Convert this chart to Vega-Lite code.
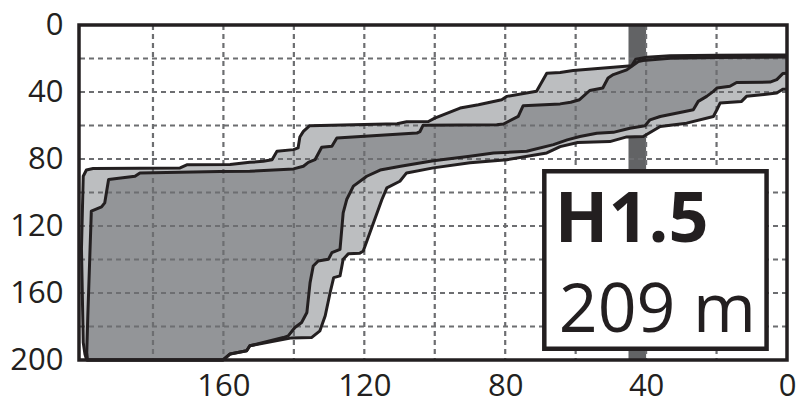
{
  "$schema": "https://vega.github.io/schema/vega-lite/v6.json",
  "width": 708,
  "height": 335,
  "autosize": "none",
  "padding": {"left": 79, "top": 25, "right": 14, "bottom": 43},
  "config": {"view": {"stroke": null}, "font": "Open Sans"},
  "datasets": {
    "outer": [
      {"x":0,"y":17.9},{"x":20,"y":18.1},{"x":33.2,"y":18.3},{"x":39.8,"y":19.2},{"x":42.9,"y":20.4},{"x":44.1,"y":24.4},{"x":60.7,"y":27.2},{"x":64.4,"y":28.4},{"x":68.2,"y":28.8},{"x":71.1,"y":39.6},{"x":79.5,"y":42.6},{"x":81,"y":44.6},{"x":87.6,"y":47.6},{"x":92.8,"y":49.6},{"x":100,"y":55.6},{"x":101.8,"y":57.6},{"x":108,"y":57.8},{"x":110.7,"y":58.9},{"x":135.5,"y":60.1},{"x":137.3,"y":63.5},{"x":138.3,"y":66.9},{"x":138.8,"y":73.4},{"x":140.1,"y":74.4},{"x":144.8,"y":75.4},{"x":146.2,"y":80.4},{"x":148.7,"y":81.4},{"x":152.5,"y":82},{"x":158.1,"y":83.3},{"x":170.4,"y":83.5},{"x":172.3,"y":85.3},{"x":183.7,"y":85.5},{"x":197,"y":85.7},{"x":198.9,"y":86.6},{"x":199.8,"y":90.3},{"x":200.3,"y":133.6},{"x":199.8,"y":189.6},{"x":199.3,"y":196.6},{"x":198.8,"y":200},
      {"x":160.2,"y":200},{"x":158.1,"y":196.4},{"x":153.4,"y":194.5},{"x":152.5,"y":191.5},{"x":140.6,"y":186.8},{"x":135,"y":186.6},{"x":132.6,"y":182.6},{"x":131.1,"y":173.6},{"x":129.7,"y":159.7},{"x":128.7,"y":150.8},{"x":126.9,"y":149.8},{"x":126,"y":139.9},{"x":124.5,"y":136.5},{"x":121.3,"y":136.3},{"x":120.3,"y":134.9},{"x":115,"y":104.2},{"x":113.6,"y":97.2},{"x":109.9,"y":93.3},{"x":108,"y":88.3},{"x":100.4,"y":85.3},{"x":90,"y":82.3},{"x":79.5,"y":80.4},{"x":68.2,"y":76.4},{"x":64.4,"y":72.6},{"x":59.4,"y":70.1},{"x":50.3,"y":69.6},{"x":45.5,"y":66.8},{"x":40.8,"y":66.6},{"x":36,"y":60.6},{"x":28.5,"y":58.6},{"x":20.9,"y":54.6},{"x":19.9,"y":50.6},{"x":19,"y":46.6},{"x":12.9,"y":45.6},{"x":11.5,"y":42.6},{"x":2.9,"y":40.6},{"x":1.2,"y":38.4},{"x":0,"y":38.3}
    ],
    "inner": [
      {"x":0,"y":19.1},{"x":20,"y":19.4},{"x":33.2,"y":19.8},{"x":40.9,"y":21.2},{"x":42.2,"y":21.8},{"x":45.5,"y":26.8},{"x":49.3,"y":29.6},{"x":50.8,"y":31.6},{"x":52.3,"y":37.6},{"x":56,"y":39.1},{"x":58.9,"y":44.6},{"x":61.4,"y":46.1},{"x":64.4,"y":47.1},{"x":74.9,"y":48.2},{"x":76.3,"y":54.6},{"x":80.5,"y":59.1},{"x":82.4,"y":59.6},{"x":103.3,"y":59.8},{"x":104.2,"y":63.6},{"x":105.1,"y":64.5},{"x":109.7,"y":65.1},{"x":127.8,"y":67.5},{"x":129.2,"y":72.4},{"x":132.1,"y":73},{"x":134,"y":80.4},{"x":135.9,"y":82},{"x":137.3,"y":84.3},{"x":140.1,"y":85.9},{"x":152.5,"y":87.3},{"x":161,"y":87.5},{"x":183.7,"y":88.3},{"x":185.1,"y":90.3},{"x":192.6,"y":92.3},{"x":193.7,"y":106.2},{"x":194.6,"y":108.6},{"x":197.5,"y":111.1},{"x":198.5,"y":173.6},{"x":198.8,"y":195.6},{"x":198.6,"y":200},
      {"x":160,"y":200},{"x":158.1,"y":196.4},{"x":153.4,"y":194.5},{"x":152.5,"y":191.5},{"x":143,"y":186.6},{"x":141.6,"y":185.6},{"x":139.7,"y":180.6},{"x":137.8,"y":177.6},{"x":136.3,"y":171.6},{"x":135.4,"y":153.8},{"x":134.5,"y":143.9},{"x":133.1,"y":140.9},{"x":130.2,"y":139.9},{"x":129.2,"y":135.9},{"x":126.9,"y":133.9},{"x":126,"y":112.1},{"x":125,"y":104.2},{"x":123.1,"y":96.2},{"x":119.3,"y":90.3},{"x":115.5,"y":86.6},{"x":109.7,"y":84.3},{"x":100.4,"y":81.1},{"x":90,"y":78.4},{"x":83.3,"y":76.4},{"x":73.9,"y":75.4},{"x":66.3,"y":71.4},{"x":62.4,"y":68.6},{"x":58.8,"y":66.6},{"x":54,"y":64.6},{"x":49.3,"y":64.1},{"x":44.6,"y":61.6},{"x":40.3,"y":60.1},{"x":38.9,"y":56.6},{"x":36,"y":54.6},{"x":29,"y":51.6},{"x":26.6,"y":50.6},{"x":25.2,"y":45.6},{"x":22.8,"y":42.6},{"x":20.9,"y":39.6},{"x":19.9,"y":37.6},{"x":16.2,"y":36.6},{"x":14.3,"y":34.3},{"x":4.8,"y":34.1},{"x":2.9,"y":32.6},{"x":1.2,"y":29},{"x":0,"y":28.8}
    ],
    "gridx": [{"x":20},{"x":40},{"x":60},{"x":80},{"x":100},{"x":120},{"x":140},{"x":160},{"x":180}],
    "gridy": [{"y":20},{"y":40},{"y":60},{"y":80},{"y":100},{"y":120},{"y":140},{"y":160},{"y":180}]
  },
  "layer": [
    {
      "data": {"values": [{"x": 45, "x2": 40, "y": 0, "y2": 200}]},
      "mark": {"type": "rect", "color": "#626365"},
      "encoding": {
        "x": {"field": "x", "type": "quantitative", "scale": {"domain": [0, 201], "reverse": true, "nice": false, "zero": false},
          "axis": {"title": null, "values": [0, 40, 80, 120, 160], "grid": false, "domain": false, "ticks": false, "tickSize": 0, "labelPadding": 11, "labelFontSize": 31, "labelFont": "Open Sans", "labelColor": "#231f20", "labelFlush": false, "labelOverlap": false}},
        "x2": {"field": "x2"},
        "y": {"field": "y", "type": "quantitative", "scale": {"domain": [0, 200], "reverse": true, "nice": false, "zero": false},
          "axis": {"title": null, "values": [0, 40, 80, 120, 160, 200], "grid": false, "domain": false, "ticks": false, "tickSize": 0, "labelPadding": 16, "labelFontSize": 31, "labelFont": "Open Sans", "labelColor": "#231f20", "labelFlush": false, "labelOverlap": false}},
        "y2": {"field": "y2"}
      }
    },
    {
      "data": {"name": "outer"},
      "mark": {"type": "line", "fill": "#bcbec0", "strokeWidth": 0, "strokeOpacity": 0},
      "encoding": {
        "x": {"field": "x", "type": "quantitative"},
        "y": {"field": "y", "type": "quantitative"},
        "order": {"value": null}
      }
    },
    {
      "data": {"name": "inner"},
      "mark": {"type": "line", "fill": "#939598", "strokeWidth": 0, "strokeOpacity": 0},
      "encoding": {
        "x": {"field": "x", "type": "quantitative"},
        "y": {"field": "y", "type": "quantitative"},
        "order": {"value": null}
      }
    },
    {
      "data": {"name": "gridx"},
      "mark": {"type": "rule", "color": "#6d6e71", "strokeWidth": 2.2, "strokeDash": [5, 4]},
      "encoding": {"x": {"field": "x", "type": "quantitative"}}
    },
    {
      "data": {"name": "gridy"},
      "mark": {"type": "rule", "color": "#6d6e71", "strokeWidth": 2.2, "strokeDash": [5, 4]},
      "encoding": {"y": {"field": "y", "type": "quantitative"}}
    },
    {
      "data": {"name": "outer"},
      "mark": {"type": "line", "color": "#231f20", "strokeWidth": 3, "strokeJoin": "round"},
      "encoding": {
        "x": {"field": "x", "type": "quantitative"},
        "y": {"field": "y", "type": "quantitative"},
        "order": {"value": null}
      }
    },
    {
      "data": {"name": "inner"},
      "mark": {"type": "line", "color": "#231f20", "strokeWidth": 3, "strokeJoin": "round"},
      "encoding": {
        "x": {"field": "x", "type": "quantitative"},
        "y": {"field": "y", "type": "quantitative"},
        "order": {"value": null}
      }
    },
    {
      "data": {"values": [{"x": 68.9, "x2": 5.8, "y": 87.3, "y2": 193.3}]},
      "mark": {"type": "rect", "fill": "#ffffff", "stroke": "#231f20", "strokeWidth": 4.5},
      "encoding": {
        "x": {"field": "x", "type": "quantitative"},
        "x2": {"field": "x2"},
        "y": {"field": "y", "type": "quantitative"},
        "y2": {"field": "y2"}
      }
    },
    {
      "data": {"values": [{"x": 65.9, "y": 129.6, "t": "H1.5"}]},
      "mark": {"type": "text", "font": "Open Sans", "fontSize": 70, "fontWeight": "bold", "align": "left", "baseline": "alphabetic", "color": "#231f20"},
      "encoding": {
        "x": {"field": "x", "type": "quantitative"},
        "y": {"field": "y", "type": "quantitative"},
        "text": {"field": "t"}
      }
    },
    {
      "data": {"values": [{"x": 64.8, "y": 183.3, "t": "209 m"}]},
      "mark": {"type": "text", "font": "Open Sans", "fontSize": 68, "align": "left", "baseline": "alphabetic", "color": "#231f20"},
      "encoding": {
        "x": {"field": "x", "type": "quantitative"},
        "y": {"field": "y", "type": "quantitative"},
        "text": {"field": "t"}
      }
    },
    {
      "data": {"values": [{"x": 201, "x2": 0, "y": 0, "y2": 200}]},
      "mark": {"type": "rect", "filled": false, "stroke": "#231f20", "strokeWidth": 3.5},
      "encoding": {
        "x": {"field": "x", "type": "quantitative"},
        "x2": {"field": "x2"},
        "y": {"field": "y", "type": "quantitative"},
        "y2": {"field": "y2"}
      }
    }
  ]
}
